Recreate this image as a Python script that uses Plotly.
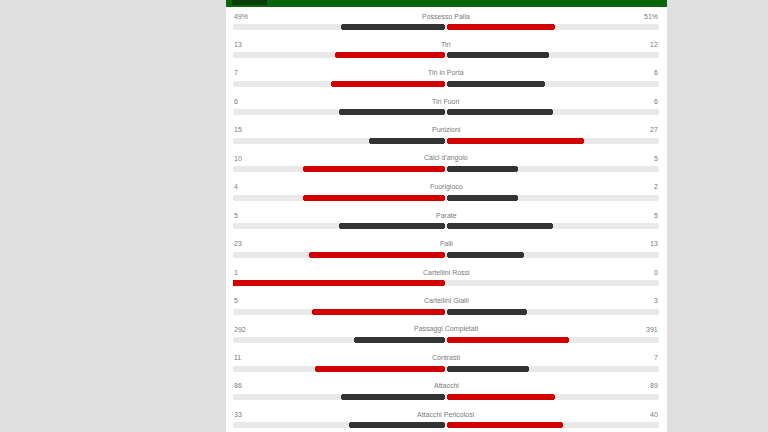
import plotly.graph_objects as go

categories = ["Possesso Palla", "Tiri", "Tiri in Porta", "Tiri Fuori", "Punizioni",
              "Calci d'angolo", "Fuorigioco", "Parate", "Falli", "Cartellini Rossi",
              "Cartellini Gialli", "Passaggi Completati", "Contrasti", "Attacchi",
              "Attacchi Pericolosi"]
home = [49, 13, 7, 6, 15, 10, 4, 5, 23, 1, 5, 292, 11, 86, 33]
away = [51, 12, 6, 6, 27, 5, 2, 5, 13, 0, 3, 391, 7, 89, 40]
suffix = ["%"] + [""] * 14

RED = "#d20000"
DARK = "#333333"
TRACK = "#e9e9e9"
TXT = "#7a7a7a"

hfrac = [h / (h + a) for h, a in zip(home, away)]
afrac = [a / (h + a) for h, a in zip(home, away)]
hcol = [RED if h > a else DARK for h, a in zip(home, away)]
acol = [RED if a > h else DARK for h, a in zip(home, away)]

W = 0.21
fig = go.Figure()
fig.add_trace(go.Bar(y=categories, x=[2] * len(categories), base=-1, orientation="h",
                     width=W, marker=dict(color=TRACK, cornerradius=3, line_width=0),
                     hoverinfo="skip"))
fig.add_trace(go.Bar(y=categories, x=[-f for f in hfrac], base=-0.003, orientation="h",
                     width=W, marker=dict(color=hcol, cornerradius=3, line_width=0)))
fig.add_trace(go.Bar(y=categories, x=afrac, base=0.003, orientation="h",
                     width=W, marker=dict(color=acol, cornerradius=3, line_width=0)))

ann = []
font = dict(family="Liberation Sans, Arial, sans-serif", size=7, color=TXT)
for c, h, a, s in zip(categories, home, away, suffix):
    ann.append(dict(x=0, y=c, text=c, showarrow=False, xanchor="center", yshift=11,
                    font=font, borderpad=0))
    ann.append(dict(x=-1, y=c, text=f"{h}{s}", showarrow=False, xanchor="left", yshift=11,
                    font=font, borderpad=0))
    ann.append(dict(x=1, y=c, text=f"{a}{s}", showarrow=False, xanchor="right", yshift=11,
                    font=font, borderpad=0))

shapes = [
    dict(type="rect", xref="paper", yref="paper", x0=226 / 768, x1=667 / 768, y0=0, y1=1,
         fillcolor="white", line_width=0, layer="below"),
    dict(type="rect", xref="paper", yref="paper", x0=226 / 768, x1=667 / 768,
         y0=1 - 7 / 432, y1=1, fillcolor="#0b650b", line_width=0, layer="above"),
    dict(type="rect", xref="paper", yref="paper", x0=232 / 768, x1=267 / 768,
         y0=1 - 5 / 432, y1=1, fillcolor="#063f06", line_width=0, layer="above"),
]

fig.update_layout(
    width=768, height=432, margin=dict(l=0, r=0, t=0, b=0),
    paper_bgcolor="#e0e0e0", plot_bgcolor="rgba(0,0,0,0)",
    barmode="overlay", showlegend=False, bargap=0,
    xaxis=dict(range=[-1, 1], domain=[233 / 768, 659 / 768], visible=False, fixedrange=True),
    yaxis=dict(type="category", categoryorder="array", categoryarray=categories,
               range=[(432 - 27) / 28.46, -27 / 28.46], visible=False, fixedrange=True),
    annotations=ann, shapes=shapes,
)
fig.write_html("out.html")
